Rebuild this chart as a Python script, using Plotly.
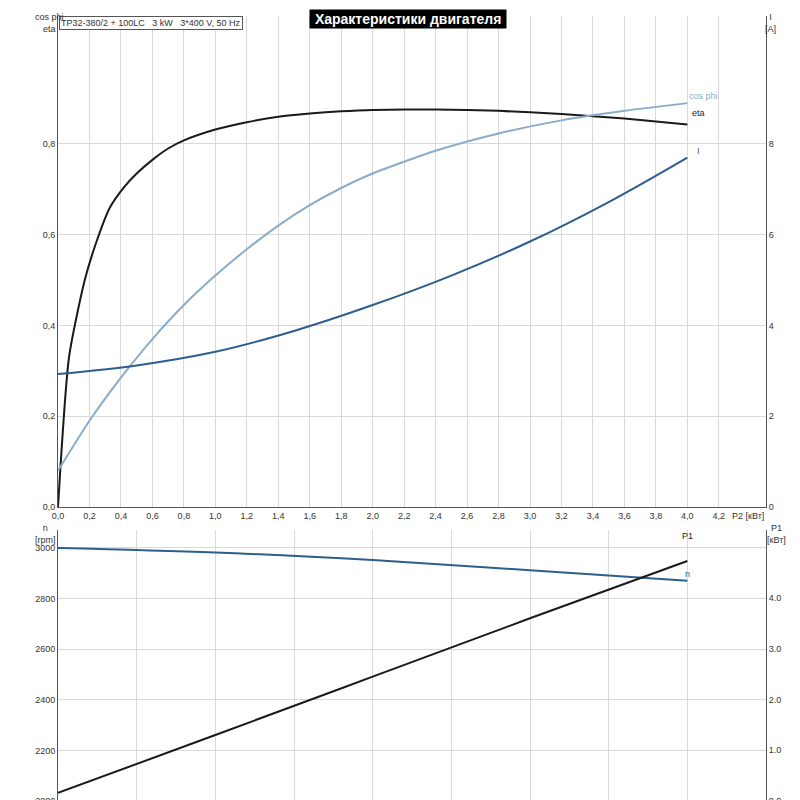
import plotly.graph_objects as go
from plotly.subplots import make_subplots

# top chart: P2 [kW] vs eta / cos phi / I
p2_eta = [0, 0.07, 0.17, 0.25, 0.33, 0.42, 0.5, 0.6, 0.7, 0.8, 1.0, 1.2, 1.4, 1.6, 1.8, 2.0, 2.4, 2.8, 3.2, 3.6, 4.0]
eta = [0, 0.33, 0.5, 0.59, 0.66, 0.705, 0.735, 0.765, 0.79, 0.808, 0.832, 0.848, 0.86, 0.867, 0.872,
       0.875, 0.876, 0.873, 0.866, 0.856, 0.843]
p2_cos = [0, 0.2, 0.4, 0.6, 0.8, 1.0, 1.2, 1.4, 1.6, 1.8, 2.0, 2.4, 2.8, 3.2, 3.6, 4.0]
cos_phi = [0.08, 0.19, 0.285, 0.37, 0.445, 0.51, 0.568, 0.62, 0.665, 0.703, 0.735, 0.785, 0.823, 0.852, 0.873, 0.89]
p2_i = [0, 0.5, 1.0, 1.5, 2.0, 2.5, 3.0, 3.5, 4.0]
current = [2.93, 3.12, 3.42, 3.88, 4.45, 5.1, 5.85, 6.72, 7.7]

# bottom chart: speed and input power
p2_low = [0, 1.0, 2.0, 3.0, 4.0]
speed = [3000, 2982, 2952, 2912, 2870]
p1 = [0.16, 1.3, 2.45, 3.6, 4.73]

top_ticks = [0, 0.2, 0.4, 0.6, 0.8]
i_ticks = [0, 2, 4, 6, 8]
x_ticks = [round(0.2 * k, 1) for k in range(22)]
p1_ticks = [0, 1, 2, 3, 4]

fig = make_subplots(rows=2, cols=1, specs=[[{"secondary_y": True}], [{"secondary_y": True}]])

fig.add_trace(go.Scatter(x=p2_eta, y=eta, mode="lines",
                         line=dict(color="#1a1a1a", width=2, shape="spline", smoothing=0.6)), 1, 1)
fig.add_trace(go.Scatter(x=p2_cos, y=cos_phi, mode="lines",
                         line=dict(color="#8aaccb", width=2, shape="spline", smoothing=0.6)), 1, 1)
fig.add_trace(go.Scatter(x=p2_i, y=current, mode="lines", line=dict(color="#2e5e8e", width=2, shape="spline")),
              1, 1, secondary_y=True)
fig.add_trace(go.Scatter(x=p2_low, y=speed, mode="lines", line=dict(color="#2e5e8e", width=2, shape="spline")), 2, 1)
fig.add_trace(go.Scatter(x=p2_low, y=p1, mode="lines", line=dict(color="#1a1a1a", width=2, shape="spline")),
              2, 1, secondary_y=True)

fs = dict(family="Liberation Sans, Arial", size=9, color="#333")
grid = dict(showgrid=True, gridcolor="#d9d9d9", showline=True, linecolor="#555", zeroline=False,
            tickfont=fs, ticks="", automargin=False)
nogrid = {k: v for k, v in grid.items() if k != "showgrid"}
xdom = [50 / 800, 758 / 800]

fig.update_xaxes(range=[0, 4.5], tickvals=x_ticks, ticktext=[f"{v:.1f}".replace(".", ",") for v in x_ticks],
                 domain=xdom, row=1, col=1, **grid)
fig.update_xaxes(range=[0, 4.5], dtick=0.5, showticklabels=False, domain=xdom, row=2, col=1, **grid)
fig.update_yaxes(range=[0, 1.082], tickvals=top_ticks, ticktext=[f"{v:.1f}".replace(".", ",") for v in top_ticks],
                 domain=[301 / 800, 792 / 800], row=1, col=1, secondary_y=False, **grid)
fig.update_yaxes(range=[0, 10.82], tickvals=i_ticks, ticktext=[str(v) for v in i_ticks], showgrid=False,
                 row=1, col=1, secondary_y=True, **nogrid)
fig.update_yaxes(range=[2000, 3071], dtick=200, domain=[7 / 800, 278 / 800],
                 row=2, col=1, secondary_y=False, **grid)
fig.update_yaxes(range=[0, 5.34], tickvals=p1_ticks, ticktext=[f"{v:.1f}" for v in p1_ticks], showgrid=False,
                 row=2, col=1, secondary_y=True, **nogrid)

ann = [
    dict(x=0.5, y=1 - 1 / 800, text="<b> Характеристики двигателя </b>", bgcolor="black",
         font=dict(family="Liberation Sans", size=14, color="white"), yanchor="top"),
    dict(x=51 / 800, y=1 - 8 / 800, text="TP32-380/2 + 100LC   3 kW   3*400 V, 50 Hz", xanchor="left",
         yanchor="top", bordercolor="#555", borderwidth=1, bgcolor="white", font=fs),
    dict(x=25 / 800, y=1 - 2 / 800, text="cos phi<br>eta", yanchor="top", font=fs),
    dict(x=770 / 800, y=1 - 2 / 800, text="I<br>[A]", yanchor="top", font=fs),
    dict(x=758 / 800, y=1 - 501 / 800, text="P2 [кВт]", xanchor="right", yanchor="top", font=fs),
    dict(x=25 / 800, y=1 - 513 / 800, text="n<br>[rpm]", yanchor="top", font=fs),
    dict(x=780 / 800, y=1 - 513 / 800, text="P1<br>[кВт]", yanchor="top", font=fs),
]
for a in ann:
    fig.add_annotation(xref="paper", yref="paper", showarrow=False, **a)

fig.add_annotation(x=4.0, y=cos_phi[-1], text="cos phi", xanchor="left", yanchor="bottom", showarrow=False,
                   font=dict(size=9, color="#8aaccb"), row=1, col=1)
fig.add_annotation(x=4.02, y=eta[-1] + 0.01, text="eta", xanchor="left", yanchor="bottom", showarrow=False,
                   font=dict(size=9, color="#1a1a1a"), row=1, col=1)
fig.add_annotation(x=4.05, y=current[-1] / 10, text="I", xanchor="left", yanchor="bottom", showarrow=False,
                   font=dict(size=9, color="#2e5e8e"), row=1, col=1)
fig.add_annotation(x=4.0, y=speed[-1], text="n", xanchor="center", yanchor="bottom", showarrow=False,
                   font=dict(size=9, color="#2e5e8e"), row=2, col=1)
fig.add_annotation(x=4.0, y=3020, text="P1", xanchor="center", yanchor="bottom", showarrow=False,
                   font=dict(size=9, color="#1a1a1a"), row=2, col=1)

fig.update_layout(width=800, height=800, margin=dict(l=0, r=0, t=0, b=0), showlegend=False,
                  plot_bgcolor="white", paper_bgcolor="white", font=fs)
fig.write_html("out.html")
